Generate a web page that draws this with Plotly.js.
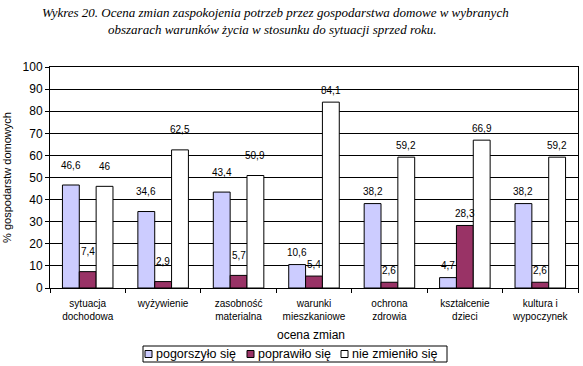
<!DOCTYPE html>
<html><head><meta charset="utf-8">
<script src="https://cdn.plot.ly/plotly-3.0.1.min.js"></script>
<style>body{margin:0;background:#fff}#c{width:583px;height:366px}</style>
</head><body><div id="c"></div>
<script>
const categories = ["sytuacja<br>dochodowa","wyżywienie","zasobność<br>materialna","warunki<br>mieszkaniowe","ochrona<br>zdrowia","kształcenie<br>dzieci","kultura i<br>wypoczynek"];
const seriesNames = ["pogorszyło się","poprawiło się","nie zmieniło się"];
const pogorszylo = [46.6, 34.6, 43.4, 10.6, 38.2, 4.7, 38.2];
const poprawilo = [7.4, 2.9, 5.7, 5.4, 2.6, 28.3, 2.6];
const niezmienilo = [46, 62.5, 50.9, 84.1, 59.2, 66.9, 59.2];
const colors = ["#ccccff","#993366","#ffffff"];
const allSeries = [pogorszylo, poprawilo, niezmienilo];

const font = "Arial, 'Liberation Sans', sans-serif";
const serif = "'Liberation Serif', 'Times New Roman', serif";
const traces = allSeries.map((vals,i)=>({
  type:"bar", x:categories, y:vals, name:seriesNames[i],
  marker:{color:colors[i], line:{color:"#000", width:1}},
  hoverinfo:"none", showlegend:false
}));

// plot area in pixels (for paper-coordinate conversions of layout decorations)
const L=50, R=578, T=67, B=288;
const px=(x)=>(x-L)/(R-L), py=(y)=>(B-y)/(B-T);

function fmt(v){return String(v).replace(".",",");}
const annotations = [];
const barW = 16.8;
allSeries.forEach((vals,s)=>{
  vals.forEach((v,i)=>{
    annotations.push({x:categories[i], y:v, xref:"x", yref:"y", text:fmt(v), showarrow:false,
      xshift:(s-1)*barW, yshift:(i<3?20:12), font:{family:font,size:10,color:"#000"}});
  });
});
annotations.push({xref:"paper", yref:"paper", x:px(311), y:py(335), xanchor:"center", yanchor:"middle",
  text:"ocena zmian", showarrow:false, font:{family:font,size:12,color:"#000"}});
annotations.push({xref:"paper", yref:"paper", x:px(275), y:py(13), xanchor:"center", yanchor:"middle",
  text:"<i>Wykres 20. Ocena zmian zaspokojenia potrzeb przez gospodarstwa domowe w wybranych</i>", showarrow:false, font:{family:serif,size:13,color:"#000"}});
annotations.push({xref:"paper", yref:"paper", x:px(272), y:py(30), xanchor:"center", yanchor:"middle",
  text:"<i>obszarach warunków życia w stosunku do sytuacji sprzed roku.</i>", showarrow:false, font:{family:serif,size:13,color:"#000"}});

// legend (drawn as layout decorations)
const shapes = [];
shapes.push({type:"rect", xref:"paper", yref:"paper", x0:px(143), x1:px(447), y0:py(362), y1:py(346), line:{color:"#000",width:1}, fillcolor:"#fff"});
const legX = [145, 247, 341];
seriesNames.forEach((n,i)=>{
  shapes.push({type:"rect", xref:"paper", yref:"paper", x0:px(legX[i]), x1:px(legX[i]+7), y0:py(357.5), y1:py(350.5),
    line:{color:"#000",width:1}, fillcolor:colors[i]});
  annotations.push({xref:"paper", yref:"paper", x:px(legX[i]+9), y:py(354), xanchor:"left", yanchor:"middle",
    text:n, showarrow:false, font:{family:font,size:12.5,color:"#000"}});
});

const layout = {
  width:583, height:366,
  margin:{l:L, r:583-R, t:T, b:366-B},
  paper_bgcolor:"#fff", plot_bgcolor:"#fff",
  barmode:"group", bargap:0.33, bargroupgap:0,
  showlegend:false,
  xaxis:{showline:true, linecolor:"#000", linewidth:1, mirror:true, ticks:"outside", ticklen:4, tickcolor:"#000",
    tickson:"boundaries", ticklabelstandoff:6, tickfont:{family:font,size:10,color:"#000"}, fixedrange:true, automargin:false},
  yaxis:{range:[0,100], dtick:10, showline:true, linecolor:"#000", linewidth:1, mirror:true,
    ticks:"outside", ticklen:4, tickcolor:"#000", showgrid:true, gridcolor:"#000", gridwidth:1,
    tickfont:{family:font,size:12,color:"#000"}, automargin:false,
    title:{text:"% gospodarstw domowych", font:{family:font,size:11,color:"#000"}, standoff:8}, zeroline:false},
  annotations:annotations,
  shapes:shapes
};
Plotly.newPlot("c", traces, layout, {staticPlot:true});
</script></body></html>
